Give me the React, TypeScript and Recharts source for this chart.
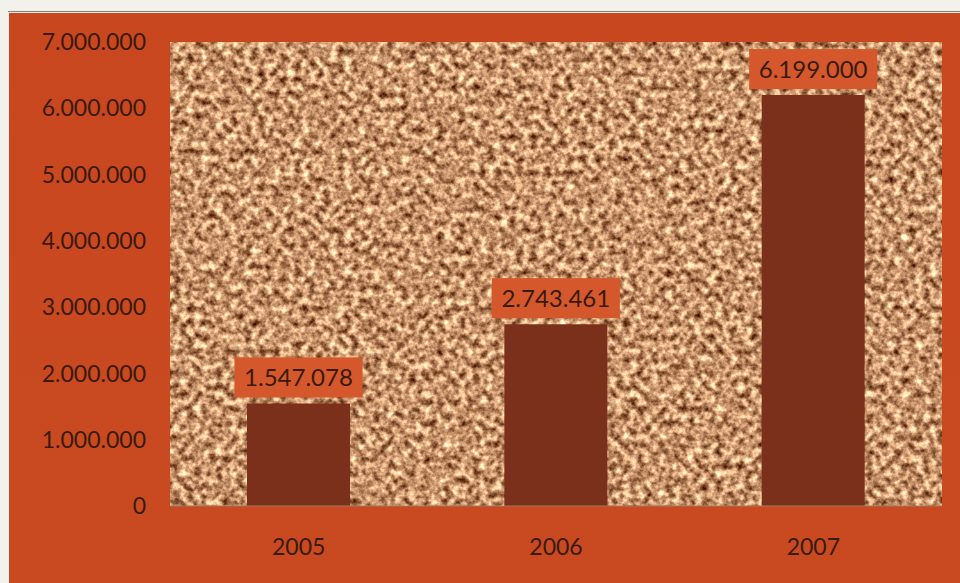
import React from "react";
import { BarChart, Bar, XAxis, YAxis, CartesianGrid, LabelList } from "recharts";

const years = ["2005", "2006", "2007"];
const values = [1547078, 2743461, 6199000];
const yTicks = [0, 1000000, 2000000, 3000000, 4000000, 5000000, 6000000, 7000000];

const data = years.map((y, i) => ({ year: y, value: values[i] }));

const fmt = (v: number) => String(v).replace(/\B(?=(\d{3})+(?!\d))/g, ".");

const FONT = "Lato, 'Liberation Sans', sans-serif";
const TEXT = "#3a1a0e";

const ValueLabel = (props: any) => {
  const { x, y, width, value } = props;
  const w = 128;
  const h = 40;
  const cx = x + width / 2;
  const top = y - 6 - h;
  return (
    <g>
      <rect x={cx - w / 2} y={top} width={w} height={h} fill="#d4582b" />
      <text
        x={cx}
        y={top + h / 2}
        dy="0.36em"
        textAnchor="middle"
        fontFamily={FONT}
        fontSize={24}
        fill={TEXT}
      >
        {fmt(value)}
      </text>
    </g>
  );
};

export default function App() {
  return (
    <div
      style={{
        position: "fixed",
        left: 0,
        top: 0,
        width: 960,
        height: 583,
        background: "#f3f1ec",
        overflow: "hidden",
      }}
    >
      <svg width="0" height="0" style={{ position: "absolute" }}>
        <defs>
          <filter id="noise" x="0" y="0" width="100%" height="100%" colorInterpolationFilters="sRGB">
            <feTurbulence type="fractalNoise" baseFrequency="0.14" numOctaves="3" seed="7" />
            <feColorMatrix
              type="matrix"
              values="1.35 0 0 0 0.1  1.35 0 0 0 -0.1  1.2 0 0 0 -0.18  0 0 0 0 1"
            />
          </filter>
          <pattern id="cork" patternUnits="userSpaceOnUse" x="0" y="0" width="960" height="600">
            <rect x="0" y="0" width="960" height="600" fill="#c8966c" filter="url(#noise)" />
          </pattern>
        </defs>
      </svg>
      <div
        style={{
          position: "absolute",
          left: 8,
          top: 11,
          width: 952,
          height: 1,
          background: "#8a7a78",
        }}
      />
      <div
        style={{
          position: "absolute",
          left: 9,
          top: 13,
          width: 951,
          height: 570,
          background: "linear-gradient(180deg, #c9471f 0%, #c94a20 100%)",
        }}
      >
        <BarChart
          width={941}
          height={570}
          data={data}
          margin={{ top: 29, right: 8, bottom: 37, left: 0 }}
          barSize={103}
        >
          <CartesianGrid horizontal={false} vertical={false} fill="url(#cork)" />
          <XAxis
            dataKey="year"
            height={40}
            tickSize={0}
            tickMargin={33}
            axisLine={{ stroke: "#9c7a66", strokeWidth: 1 }}
            tick={{ fontFamily: FONT, fontSize: 23, fill: TEXT }}
          />
          <YAxis
            width={161}
            domain={[0, 7000000]}
            ticks={yTicks}
            interval={0}
            tickSize={0}
            tickMargin={24}
            axisLine={false}
            tickFormatter={fmt}
            tick={{ fontFamily: FONT, fontSize: 23, fill: TEXT }}
          />
          <Bar dataKey="value" fill="#7b301c" isAnimationActive={false}>
            <LabelList dataKey="value" content={<ValueLabel />} />
          </Bar>
        </BarChart>
      </div>
    </div>
  );
}
